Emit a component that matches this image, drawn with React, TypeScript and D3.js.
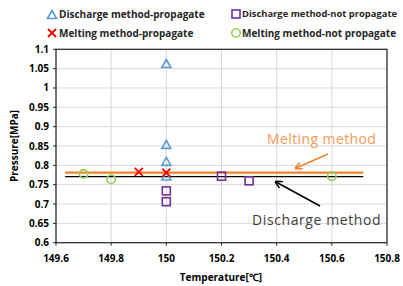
import React from "react";
import * as d3 from "d3";

const xTicks = [149.6, 149.8, 150, 150.2, 150.4, 150.6, 150.8];
const yTicks = [0.6, 0.65, 0.7, 0.75, 0.8, 0.85, 0.9, 0.95, 1, 1.05, 1.1];

const dischargePropX = [150, 150, 150, 150];
const dischargePropY = [1.062, 0.853, 0.809, 0.771];
const dischargeNotX = [150, 150, 150.2, 150.3];
const dischargeNotY = [0.734, 0.706, 0.772, 0.76];
const meltingPropX = [149.9, 150];
const meltingPropY = [0.783, 0.781];
const meltingNotX = [149.7, 149.8, 150.6];
const meltingNotY = [0.778, 0.764, 0.772];

const lineX = [149.633, 150.714];
const meltingLineY = 0.781;
const dischargeLineY = 0.771;

const W = 403, H = 286;
const L = 56, R = 387, T = 49.3, B = 242.7;

export default function App() {
  const x = d3.scaleLinear().domain([149.6, 150.8]).range([L, R]);
  const y = d3.scaleLinear().domain([0.6, 1.1]).range([B, T]);
  const font = "'Open Sans', 'Liberation Sans', sans-serif";
  const tri = (cx: number, cy: number, k: string) => (
    <path key={k} d={`M${cx},${cy - 4.5}L${cx + 4.5},${cy + 3.5}L${cx - 4.5},${cy + 3.5}Z`} fill="none" stroke="#5B9BD5" strokeWidth={1.6} />
  );
  const sq = (cx: number, cy: number, k: string) => (
    <rect key={k} x={cx - 4} y={cy - 4} width={8} height={8} fill="none" stroke="#7030A0" strokeWidth={1.6} />
  );
  const cross = (cx: number, cy: number, k: string) => (
    <path key={k} d={`M${cx - 4},${cy - 4}L${cx + 4},${cy + 4}M${cx - 4},${cy + 4}L${cx + 4},${cy - 4}`} stroke="#FF0000" strokeWidth={1.8} />
  );
  const circ = (cx: number, cy: number, k: string) => (
    <circle key={k} cx={cx} cy={cy} r={4.2} fill="none" stroke="#92D050" strokeWidth={1.6} />
  );
  return (
    <svg width={W} height={H} style={{ position: "absolute", left: 0, top: 0 }} fontFamily={font}>
      <rect width={W} height={H} fill="#fff" />
      {xTicks.map((t) => (
        <line key={"gx" + t} x1={x(t)} x2={x(t)} y1={T} y2={B} stroke="#D9D9D9" strokeWidth={1} />
      ))}
      {yTicks.map((t) => (
        <line key={"gy" + t} x1={L} x2={R} y1={y(t)} y2={y(t)} stroke="#D9D9D9" strokeWidth={1} />
      ))}
      <rect x={L} y={T} width={R - L} height={B - T} fill="none" stroke="#262626" strokeWidth={1.2} />
      {yTicks.map((t) => (
        <line key={"ty" + t} x1={L - 3} x2={L} y1={y(t)} y2={y(t)} stroke="#262626" strokeWidth={1} />
      ))}
      {xTicks.map((t) => (
        <line key={"tx" + t} x1={x(t)} x2={x(t)} y1={B} y2={B + 3} stroke="#262626" strokeWidth={1} />
      ))}
      {yTicks.map((t) => (
        <text key={"ly" + t} x={49} y={y(t)} dy="0.35em" textAnchor="end" fontSize={10} fontWeight="bold" fill="#000">
          {+t.toFixed(2)}
        </text>
      ))}
      {xTicks.map((t) => (
        <text key={"lx" + t} x={x(t)} y={258} dy="0.35em" textAnchor="middle" fontSize={10} fontWeight="bold" fill="#000">
          {+t.toFixed(1)}
        </text>
      ))}
      <text x={221} y={277} dy="0.35em" textAnchor="middle" fontSize={10} fontWeight="bold">Temperature[℃]</text>
      <text transform="translate(14,146) rotate(-90)" dy="0.35em" textAnchor="middle" fontSize={10} fontWeight="bold">Pressure[MPa]</text>
      <line x1={x(lineX[0])} x2={x(lineX[1])} y1={y(dischargeLineY)} y2={y(dischargeLineY)} stroke="#000" strokeWidth={1.2} />
      <line x1={x(lineX[0])} x2={x(lineX[1])} y1={y(meltingLineY)} y2={y(meltingLineY)} stroke="#F5802A" strokeWidth={2.2} />
      {meltingNotX.map((v, i) => circ(x(v), y(meltingNotY[i]), "c" + i))}
      {dischargeNotX.map((v, i) => sq(x(v), y(dischargeNotY[i]), "s" + i))}
      {dischargePropX.map((v, i) => tri(x(v), y(dischargePropY[i]), "t" + i))}
      {meltingPropX.map((v, i) => cross(x(v), y(meltingPropY[i]), "x" + i))}
      <defs>
        <marker id="ao" viewBox="0 0 10 10" refX="8" refY="5" markerWidth="5" markerHeight="5" orient="auto">
          <path d="M0,0L10,5L0,10" fill="none" stroke="#F5802A" strokeWidth={2} />
        </marker>
        <marker id="ab" viewBox="0 0 10 10" refX="8" refY="5" markerWidth="5" markerHeight="5" orient="auto">
          <path d="M0,0L10,5L0,10" fill="none" stroke="#000" strokeWidth={2} />
        </marker>
      </defs>
      <text x={267} y={144} fontSize={14} letterSpacing={0.4} fill="#F79A5A">Melting method</text>
      <line x1={328} y1={154} x2={296} y2={168} stroke="#F5802A" strokeWidth={1.5} markerEnd="url(#ao)" />
      <text x={252} y={225} fontSize={14} letterSpacing={0.6} fill="#404040">Discharge method</text>
      <line x1={320} y1={206} x2={276} y2={182} stroke="#000" strokeWidth={1.5} markerEnd="url(#ab)" />
      {tri(52, 15, "lt")}
      <text x={59} y={14} dy="0.35em" fontSize={10} fontWeight="bold" fill="#262626">Discharge method-propagate</text>
      {sq(236, 14, "ls")}
      <text x={242} y={14} dy="0.35em" fontSize={9.4} fontWeight="bold" fill="#262626">Discharge method-not propagate</text>
      {cross(52, 33, "lx")}
      <text x={59} y={33} dy="0.35em" fontSize={10} fontWeight="bold" fill="#262626">Melting method-propagate</text>
      {circ(236, 33, "lc")}
      <text x={242} y={33} dy="0.35em" fontSize={10} fontWeight="bold" fill="#262626">Melting method-not propagate</text>
    </svg>
  );
}
